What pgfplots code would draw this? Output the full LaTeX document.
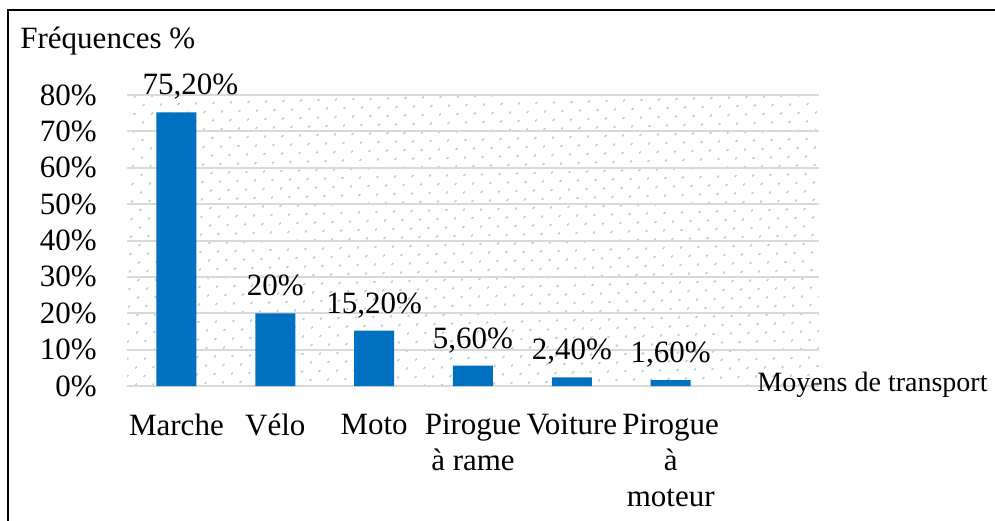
\documentclass[border=0pt]{standalone}
\usepackage{pgfplots}
\pgfplotsset{compat=1.18}
\usepackage{pgfplotstable}
\usepackage{fontspec}
\setmainfont{Liberation Serif}
\usetikzlibrary{patterns.meta}
\definecolor{barblue}{HTML}{0070C0}
\definecolor{dotblue}{HTML}{8EB9E3}
\definecolor{gridgray}{HTML}{D9D9D9}
\pgfplotstableread{
x y label
0 75.2 75,20\%
1 20.0 20\%
2 15.2 15,20\%
3 5.6 5,60\%
4 2.4 2,40\%
5 1.6 1,60\%
}\datatable
\begin{document}
\begin{tikzpicture}
\path[use as bounding box] (0,0) rectangle (497.5bp,-260.5bp);
\draw[line width=1bp] (4bp,-262bp) -- (4bp,-5bp) -- (499bp,-5bp);
\begin{axis}[
  at={(63.5bp,-193bp)}, anchor=south west,
  scale only axis, width=346bp, height=145.5bp,
  xmin=-0.5, xmax=6.5, ymin=0, ymax=80,
  ytick={0,10,...,80},
  yticklabels={0\%,10\%,20\%,30\%,40\%,50\%,60\%,70\%,80\%},
  xtick={0,1,2,3,4,5},
  xticklabels={Marche,Vélo,Moto,{Pirogue\\à rame},Voiture,{Pirogue\\à\\moteur}},
  font=\fontsize{15.5bp}{18bp}\selectfont,
  ymajorgrids, major grid style={draw=gridgray, line width=1bp},
  axis line style={draw=none}, tick style={draw=none},
  yticklabel style={anchor=east, inner sep=0pt, xshift=-15bp},
  xticklabel style={anchor=north, align=center, inner sep=0pt, yshift=-9.5bp},
  axis background/.style={pattern={Dots[distance=6bp,radius=0.6bp,angle=45]}, pattern color=dotblue},
  ylabel={Fréquences \%},
  every axis y label/.style={at={(axis description cs:-0.1546,1.1615)}, anchor=base west, inner sep=0pt},
  xlabel={Moyens de transport},
  every axis x label/.style={at={(axis description cs:0.9104,-0.0172)}, anchor=base west, inner sep=0pt, font=\fontsize{14bp}{17bp}\selectfont},
  ybar, bar width=20bp,
  nodes near coords, point meta=explicit symbolic,
  visualization depends on={x \as \xval},
  every node near coord/.append style={anchor=base, inner sep=0pt, yshift=8.75bp, xshift={(\xval<0.5)*7bp}},
  clip=false,
]
\addplot[fill=barblue, draw=none] table[x=x, y=y, meta=label] {\datatable};
\end{axis}
\end{tikzpicture}
\end{document}
